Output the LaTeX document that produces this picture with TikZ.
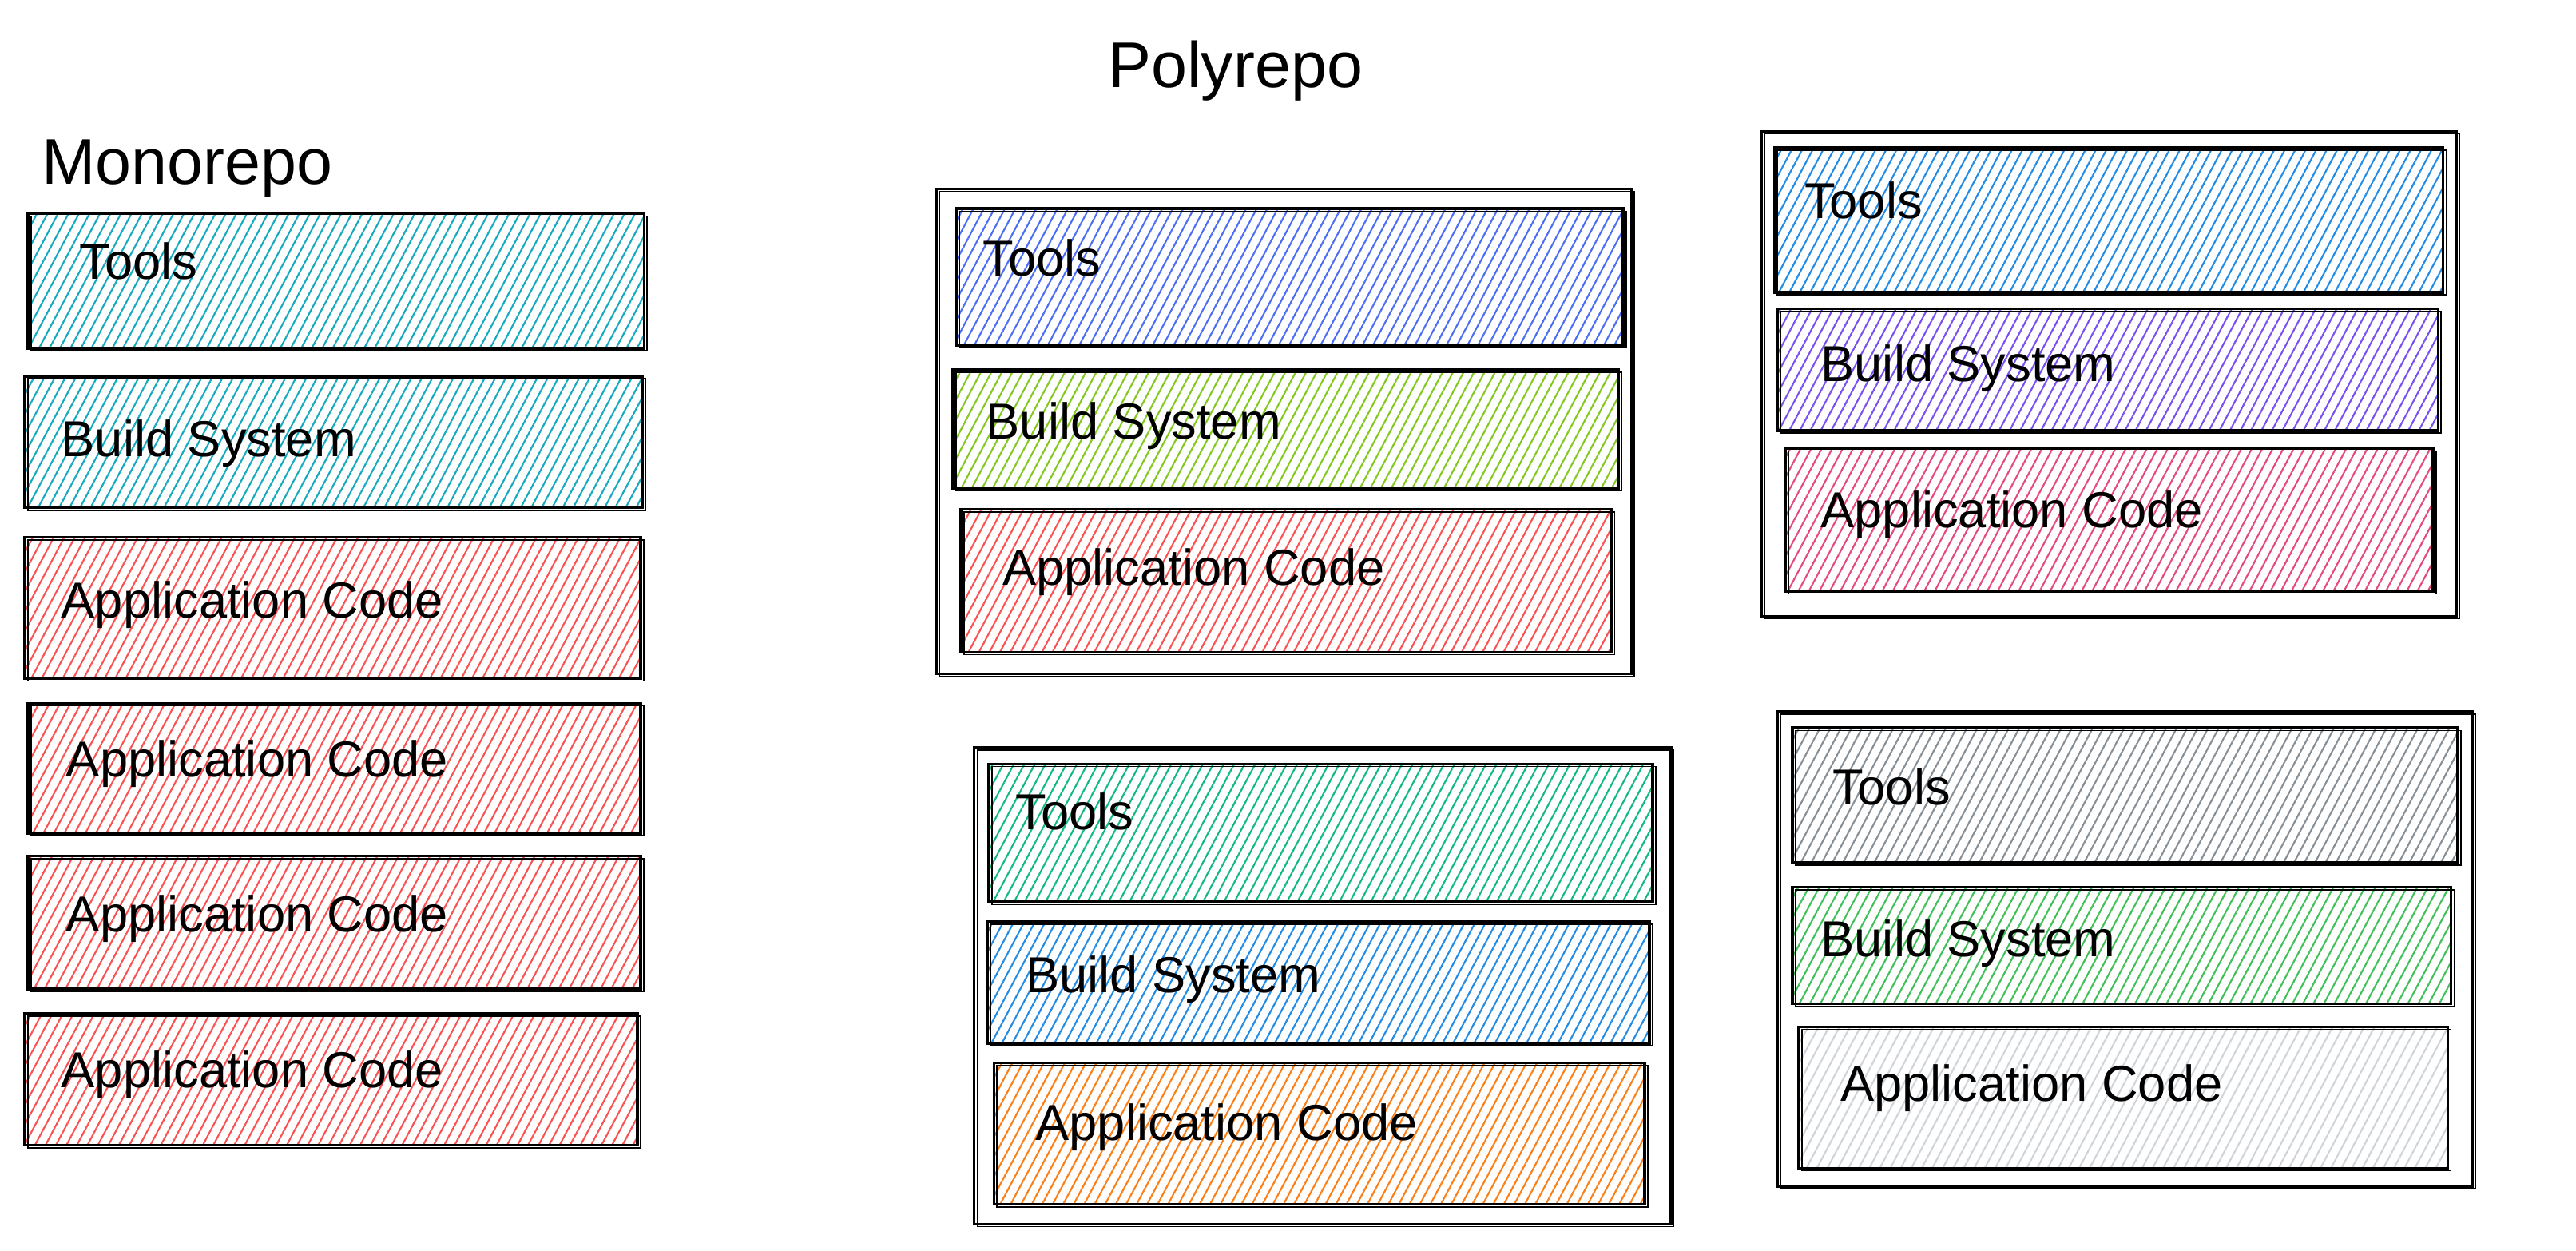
\documentclass[tikz,border=0pt]{standalone}
\usepackage{fontspec}
\setmainfont{Liberation Sans}
\usepackage{xcolor}
\usepackage{tikz}
\usetikzlibrary{positioning}
\usetikzlibrary{fit}
\usetikzlibrary{patterns.meta}

\definecolor{exCyan}{HTML}{15AABF}
\definecolor{exRed}{HTML}{FA5252}
\definecolor{exIndigo}{HTML}{4C6EF5}
\definecolor{exLime}{HTML}{82C91E}
\definecolor{exBlue}{HTML}{228BE6}
\definecolor{exViolet}{HTML}{7950F2}
\definecolor{exPink}{HTML}{E64980}
\definecolor{exTeal}{HTML}{12B886}
\definecolor{exOrange}{HTML}{FD7E14}
\definecolor{exGray}{HTML}{868E96}
\definecolor{exGreen}{HTML}{40C057}
\definecolor{exLightGray}{HTML}{CED4DA}

\tikzset{
	sketch/.style={draw=black, line width=1pt, inner sep=0pt,
		postaction={draw=black, line width=0.45pt, transform canvas={shift={(1.1pt,-0.9pt)}}}},
	layer/.style={sketch, pattern={Lines[angle=62, distance=3.3pt, line width=0.6pt]}, pattern color=#1},
	repo/.style={sketch},
	lbl/.style={font=\fontsize{18pt}{20pt}\selectfont, inner sep=0pt},
	title/.style={font=\fontsize{23pt}{26pt}\selectfont, inner sep=0pt}
}
% one hatched layer: name, colour, corner, corner, label base, text
\newcommand\layer[6]{
	\node[layer=#2, fit={#3 #4}] (#1) {};
	\node[lbl, anchor=base west] (#1-txt) at #5 {#6};
}

\begin{document}
\begin{tikzpicture}[x=0.020568cm, y=-0.020568cm]
	\useasboundingbox (0,0) rectangle (1568,761);

	% monorepo
	\node[title, anchor=base west] (mono) at (25,112) {Monorepo};
	\layer{mtools}{exCyan}{(17,130)}{(392,212)}{(48,170)}{Tools}
	\layer{mbuild}{exCyan}{(15,229)}{(391,309)}{(37,278)}{Build System}
	\layer{mappa}{exRed}{(15,327)}{(390,413)}{(37,376)}{Application Code}
	\layer{mappb}{exRed}{(17,428)}{(390,507)}{(40,473)}{Application Code}
	\layer{mappc}{exRed}{(17,521)}{(390,602)}{(40,567)}{Application Code}
	\layer{mappd}{exRed}{(15,617)}{(388,697)}{(37,662)}{Application Code}

	% polyrepo
	\node[title, anchor=base] (poly) at (752,53) {Polyrepo};

	\node[repo, fit={(570,115) (993,410)}] (repoa) {};
	\layer{atools}{exIndigo}{(582,127)}{(988,210)}{(598,168)}{Tools}
	\layer{abuild}{exLime}{(580,225)}{(985,297)}{(600,267)}{Build System}
	\layer{aapp}{exRed}{(585,310)}{(981,397)}{(610,356)}{Application Code}

	\node[repo, fit={(1072,80) (1495,375)}] (repob) {};
	\layer{btools}{exBlue}{(1080,90)}{(1487,178)}{(1098,133)}{Tools}
	\layer{bbuild}{exViolet}{(1082,188)}{(1484,262)}{(1108,232)}{Build System}
	\layer{bapp}{exPink}{(1087,273)}{(1481,360)}{(1108,321)}{Application Code}

	\node[repo, fit={(593,455) (1017,745)}] (repoc) {};
	\layer{ctools}{exTeal}{(602,465)}{(1006,549)}{(618,505)}{Tools}
	\layer{cbuild}{exBlue}{(601,561)}{(1004,635)}{(624,604)}{Build System}
	\layer{capp}{exOrange}{(605,647)}{(1001,733)}{(630,694)}{Application Code}

	\node[repo, fit={(1082,433) (1505,722)}] (repod) {};
	\layer{dtools}{exGray}{(1091,443)}{(1496,525)}{(1115,490)}{Tools}
	\layer{dbuild}{exGreen}{(1091,540)}{(1492,611)}{(1108,582)}{Build System}
	\layer{dapp}{exLightGray}{(1095,625)}{(1490,711)}{(1120,670)}{Application Code}
\end{tikzpicture}
\end{document}
